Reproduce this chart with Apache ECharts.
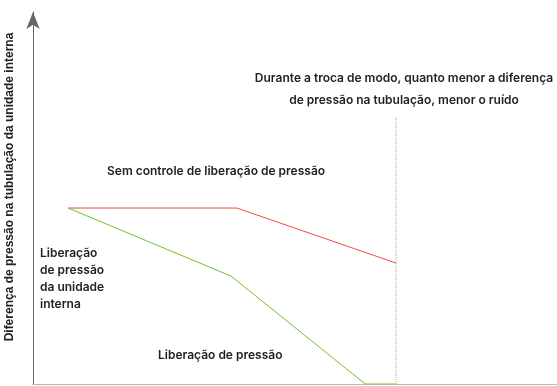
<!DOCTYPE html>
<html><head><meta charset="utf-8">
<script src="https://cdn.jsdelivr.net/npm/echarts@6/dist/echarts.min.js"></script>
<style>html,body{margin:0;padding:0;background:#fff}#c{width:557px;height:386px}</style>
</head><body><div id="c"></div>
<script>
// Data (x: 0-100 horizontal progress, y: 0-100 pressure difference)
const redX = [6.7, 38.9, 69.3];
const redY = [47.3, 47.3, 32.5];
const greenX = [6.7, 37.8, 63.4, 69.3];
const greenY = [47.3, 29.0, 0, 0];
const switchX = 69.3;
const switchTopY = 71.8;
const yTitle = 'Diferença de pressão na tubulação da unidade interna';
const noteLines = ['Durante a troca de modo, quanto menor a diferença', 'de pressão na tubulação, menor o ruído'];
const redLabel = 'Sem controle de liberação de pressão';
const greenLabel = 'Liberação de pressão';
const indoorLabel = 'Liberação\nde pressão\nda unidade\ninterna';

const chart = echarts.init(document.getElementById('c'));
const txt = {fontFamily: 'Inter', fontSize: 12, fontWeight: 600, fill: '#222'};
chart.setOption({
  animation: false,
  grid: {left: 33, right: 0, top: 12, bottom: 2},
  xAxis: {type: 'value', min: 0, max: 100, axisLabel: {show: false}, axisTick: {show: false}, splitLine: {show: false},
    axisLine: {show: true, lineStyle: {color: '#aaa', type: 'dotted', width: 1}}},
  yAxis: {type: 'value', min: 0, max: 100, axisLabel: {show: false}, axisTick: {show: false}, splitLine: {show: false},
    axisLine: {show: true, symbol: ['none', 'arrow'], symbolSize: [10, 17], lineStyle: {color: '#666', width: 1}}},
  series: [
    {type: 'line', data: redX.map((x, i) => [x, redY[i]]), symbol: 'none', lineStyle: {color: '#f04a3a', width: 1}},
    {type: 'line', data: greenX.map((x, i) => [x, greenY[i]]), symbol: 'none', lineStyle: {color: '#74bf2e', width: 1}},
    {type: 'line', data: [[switchX, 0], [switchX, switchTopY]], symbol: 'none', lineStyle: {color: '#aaa', width: 1, type: 'dotted'}}
  ],
  graphic: [
    {type: 'text', x: 10, y: 187, rotation: Math.PI / 2, style: {text: yTitle, fontFamily: 'Liberation Sans', fontSize: 12, fontWeight: 'bold', fill: '#222', align: 'center', verticalAlign: 'middle'}},
    {type: 'text', x: 404, y: 78, style: Object.assign({text: noteLines[0], align: 'center', verticalAlign: 'middle'}, txt)},
    {type: 'text', x: 404, y: 100, style: Object.assign({text: noteLines[1], align: 'center', verticalAlign: 'middle'}, txt)},
    {type: 'text', x: 107, y: 171, style: Object.assign({text: redLabel, align: 'left', verticalAlign: 'middle'}, txt)},
    {type: 'text', x: 158, y: 355, style: Object.assign({text: greenLabel, align: 'left', verticalAlign: 'middle'}, txt)},
    {type: 'text', x: 40, y: 245, style: Object.assign({text: indoorLabel, align: 'left', verticalAlign: 'top', lineHeight: 17}, txt)}
  ]
});
</script></body></html>
